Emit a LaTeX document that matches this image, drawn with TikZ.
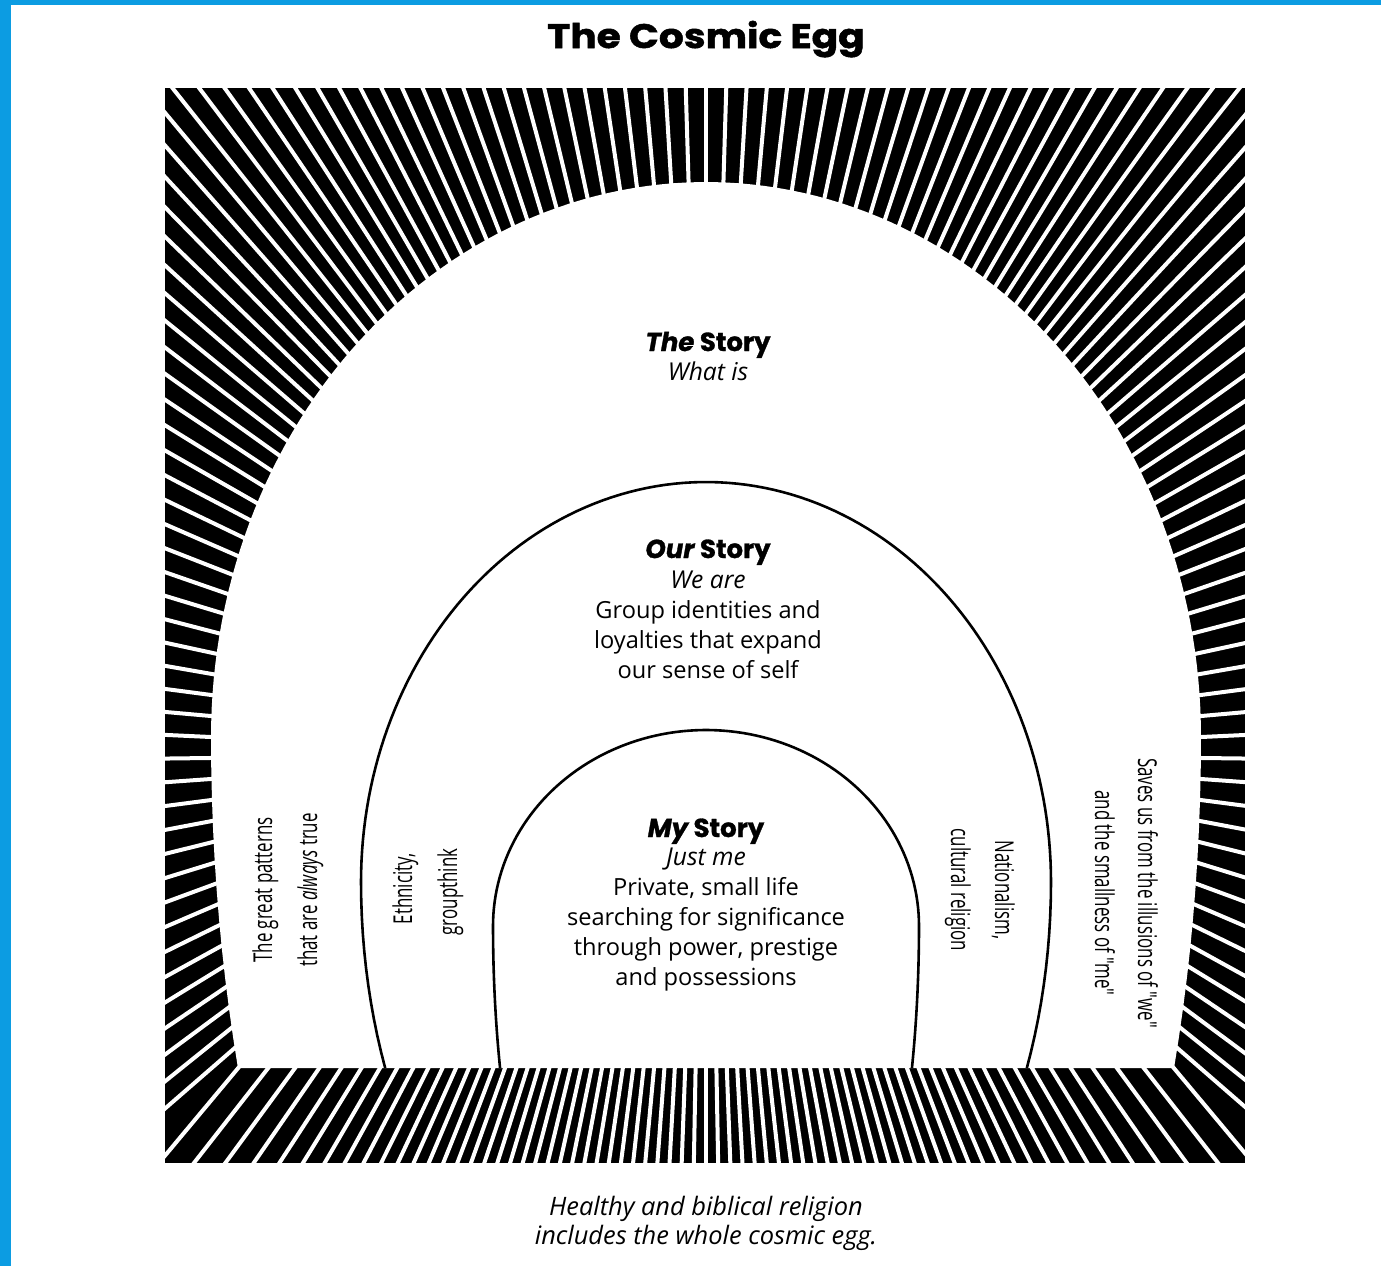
\documentclass[tikz,border=0pt]{standalone}
\usepackage{fontspec}
\setmainfont{Open Sans}
\newfontfamily\heavyfont{Poppins}[FakeBold=1.2]
\newfontfamily\titlefont{Poppins}[FakeStretch=1.15,FakeBold=1.5]
\newfontfamily\condfont{Open Sans}[FakeStretch=0.65]
\definecolor{frameblue}{RGB}{12,156,226}
\begin{document}
\begin{tikzpicture}[x=0.5pt,y=-0.5pt,
  body/.style={anchor=base, inner sep=0, font=\fontsize{11.8}{14}\selectfont},
  bodyit/.style={anchor=base, inner sep=0, font=\fontsize{12.3}{14}\selectfont\itshape},
  capit/.style={anchor=base, inner sep=0, font=\fontsize{12.7}{15}\selectfont\itshape},
  head/.style={anchor=base, inner sep=0, font=\fontsize{13}{15}\selectfont\heavyfont\bfseries},
  cond/.style={anchor=base, inner sep=0, font=\fontsize{13}{15}\selectfont\condfont},
  curve/.style={line width=1.3pt, black},
  stripe/.style={white, line width=2pt, shorten >=-3pt, shorten <=-3pt}
]
\useasboundingbox (0,0) rectangle (1381,1266);
\fill[white] (0,0) rectangle (1381,1266);
\fill[frameblue] (0,0) rectangle (11,1266);
\fill[frameblue] (0,0) rectangle (1381,5);

% black frame with white egg
\begin{scope}
\clip (165,88) rectangle (1245,1163);
\fill[black] (165,88) rectangle (1245,1163);
\fill[white] (238,1068)
  -- plot[domain=161:180, samples=12, variable=\t] ({706+495*cos(\t)},{737+1017*sin(\t)})
  -- plot[domain=180:360, samples=120, variable=\t] ({706+495*cos(\t)},{737+555*sin(\t)})
  -- plot[domain=0:19, samples=12, variable=\t] ({706+495*cos(\t)},{737+1017*sin(\t)})
  -- cycle;
\foreach \k in {0,...,199}{
  \pgfmathsetmacro\myu{\k*1.8}
  \pgfmathsetmacro\myal{\myu+5.0*sin(2*\myu)+2.5*sin(4*\myu)}
  \pgfmathsetmacro\myc{cos(\myal)}
  \pgfmathsetmacro\mys{sin(\myal)}
  \pgfmathsetmacro\mybb{(\mys<0) ? 555 : 1017}
  \pgfmathsetmacro\myre{495/sqrt(\myc*\myc+(\mys*495/\mybb)*(\mys*495/\mybb))}
  \pgfmathsetmacro\myrb{331/max(\mys,0.06)}
  \pgfmathsetmacro\myrr{min(\myre,\myrb)}
  \pgfmathsetmacro\myix{706+\myrr*\myc}
  \pgfmathsetmacro\myiy{737+\myrr*\mys}
  \pgfmathsetmacro\myvy{(\myrb<\myre) ? 508 : (760-0.39*max(0,\myiy-737))}
  \pgfmathsetmacro\mydx{(\myix-706)/100}
  \pgfmathsetmacro\mydy{(\myiy-\myvy)/100}
  \pgfmathsetmacro\mylen{sqrt(\mydx*\mydx+\mydy*\mydy)}
  \pgfmathsetmacro\myux{\mydx/\mylen}
  \pgfmathsetmacro\myuy{\mydy/\mylen}
  \pgfmathsetmacro\mytx{(\myux<0) ? (\myix-165)/max(-\myux,0.1) : (1245-\myix)/max(\myux,0.1)}
  \pgfmathsetmacro\myty{(\myuy<0) ? (\myiy-88)/max(-\myuy,0.1) : (1163-\myiy)/max(\myuy,0.1)}
  \pgfmathsetmacro\mytt{min(\mytx,\myty)}
  \coordinate (in) at (\myix,\myiy);
  \coordinate (out) at ({\myix+\mytt*\myux},{\myiy+\mytt*\myuy});
  \draw[stripe] (in) -- (out);
}
\end{scope}

% inner arches
\draw[curve]
  plot[domain=158.43:180, samples=12, variable=\t] ({706+345*cos(\t)},{882+506*sin(\t)})
  -- plot[domain=180:360, samples=120, variable=\t] ({706+345*cos(\t)},{882+400*sin(\t)})
  -- plot[domain=0:21.57, samples=12, variable=\t] ({706+345*cos(\t)},{882+506*sin(\t)});
\draw[curve]
  plot[domain=165.23:180, samples=12, variable=\t] ({706+213*cos(\t)},{926+557*sin(\t)})
  -- plot[domain=180:360, samples=100, variable=\t] ({706+213*cos(\t)},{926+196*sin(\t)})
  -- plot[domain=0:14.77, samples=12, variable=\t] ({706+213*cos(\t)},{926+557*sin(\t)});

% title
\node[anchor=base, inner sep=0, font=\fontsize{17}{20}\selectfont\titlefont\bfseries] (title) at (706,48) {The Cosmic Egg};

% The Story
\node[head] (thestory) at (708,351) {{\itshape The} Story};
\node[bodyit] (whatis) at (708,380) {What is};

% Our Story
\node[head] (ourstory) at (708,558) {{\itshape Our} Story};
\node[bodyit] (weare) at (708,588) {We are};
\node[body] (our1) at (708,618) {Group identities and};
\node[body] (our2) at (708,648) {loyalties that expand};
\node[body] (our3) at (708,678) {our sense of self};

% My Story
\node[head] (mystory) at (706,837) {{\itshape My} Story};
\node[bodyit] (justme) at (706,865) {Just me};
\node[body] (my1) at (706,895) {Private, small life};
\node[body] (my2) at (706,925) {searching for significance};
\node[body] (my3) at (706,955) {through power, prestige};
\node[body] (my4) at (706,985) {and possessions};

% rotated side texts
\node[cond, rotate=90] (pat1) at (272,890) {The great patterns};
\node[cond, rotate=90] (pat2) at (317,890) {that are \textit{always} true};
\node[cond, rotate=90] (eth1) at (412,889) {Ethnicity,};
\node[cond, rotate=90] (eth2) at (457,892) {groupthink};
\node[cond, rotate=-90] (nat1) at (995,890) {Nationalism,};
\node[cond, rotate=-90] (nat2) at (951,890) {cultural religion};
\node[cond, rotate=-90] (sav1) at (1138,893) {Saves us from the illusions of "we"};
\node[cond, rotate=-90] (sav2) at (1095,893) {and the smallness of "me"};

% caption
\node[capit] (cap1) at (706,1215) {Healthy and biblical religion};
\node[capit] (cap2) at (706,1244) {includes the whole cosmic egg.};
\end{tikzpicture}
\end{document}
